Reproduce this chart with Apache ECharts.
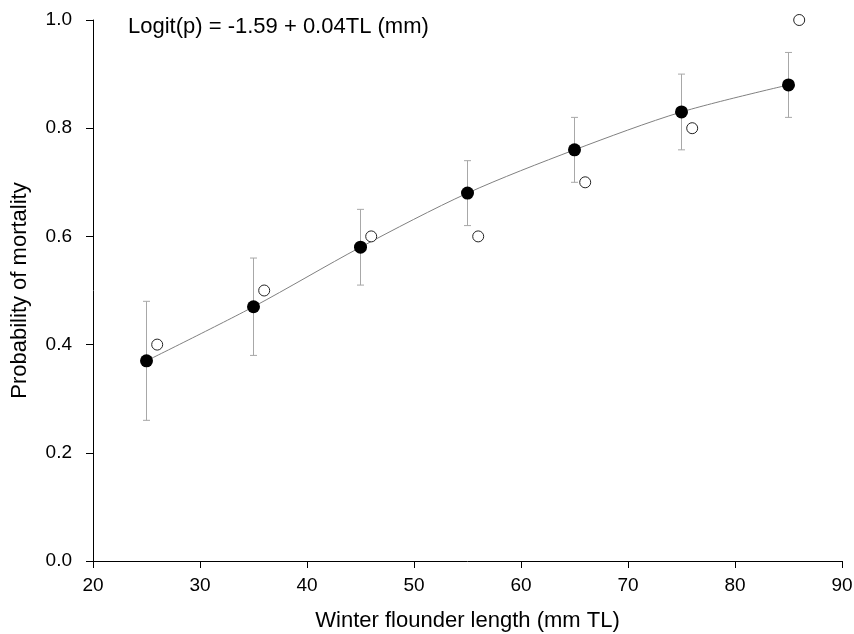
<!DOCTYPE html>
<html>
<head>
<meta charset="utf-8">
<script src="https://cdn.jsdelivr.net/npm/echarts@6/dist/echarts.min.js"></script>
<style>
  html, body { margin: 0; padding: 0; background: #fff; }
  #chart { width: 854px; height: 634px; }
</style>
</head>
<body>
<div id="chart"></div>
<script>
  // fitted (filled) points with error bars
  const lengths = [25, 35, 45, 55, 65, 75, 85]
  const fitted = [0.37, 0.47, 0.58, 0.68, 0.76, 0.83, 0.88]
  const errLow = [0.26, 0.38, 0.51, 0.62, 0.70, 0.76, 0.82]
  const errHigh = [0.48, 0.56, 0.65, 0.74, 0.82, 0.90, 0.94]

  // observed (open) points
  const obsLengths = [26, 36, 46, 56, 66, 76, 86]
  const observed = [0.40, 0.50, 0.60, 0.60, 0.70, 0.80, 1.00]

  const xTicks = [20, 30, 40, 50, 60, 70, 80, 90]
  const yTicks = [0.0, 0.2, 0.4, 0.6, 0.8, 1.0]

  const font = 'Liberation Sans, Arial, sans-serif'
  const chart = echarts.init(document.getElementById('chart'))

  const option = {
    animation: false,
    grid: { left: 93, right: 12, top: 20, bottom: 73, outerBoundsMode: 'none', containLabel: false },
    graphic: [{
      type: 'text',
      left: 128,
      top: 16,
      style: { text: 'Logit(p) = -1.59 + 0.04TL (mm)', font: '22px ' + font, fill: '#000' }
    }],
    xAxis: {
      type: 'value',
      min: xTicks[0],
      max: xTicks[xTicks.length - 1],
      interval: 10,
      name: 'Winter flounder length (mm TL)',
      nameLocation: 'middle',
      nameGap: 49,
      nameTextStyle: { fontSize: 22, fontFamily: font, color: '#000' },
      axisLine: { lineStyle: { color: '#000', width: 1 } },
      axisTick: { show: true, length: 7, lineStyle: { color: '#000' } },
      axisLabel: { fontSize: 19, fontFamily: font, color: '#000', margin: 15 },
      splitLine: { show: false }
    },
    yAxis: {
      type: 'value',
      min: yTicks[0],
      max: yTicks[yTicks.length - 1],
      interval: 0.2,
      name: 'Probability of mortality',
      nameLocation: 'middle',
      nameGap: 62,
      nameTextStyle: { fontSize: 22, fontFamily: font, color: '#000' },
      axisLine: { show: true, lineStyle: { color: '#000', width: 1 } },
      axisTick: { show: true, length: 7, lineStyle: { color: '#000' } },
      axisLabel: {
        fontSize: 19, fontFamily: font, color: '#000', margin: 21,
        formatter: v => v.toFixed(1)
      },
      splitLine: { show: false }
    },
    series: [
      {
        type: 'custom',
        name: 'error',
        data: lengths.map((x, i) => [x, errLow[i], errHigh[i]]),
        renderItem: (params, api) => {
          const lo = api.coord([api.value(0), api.value(1)])
          const hi = api.coord([api.value(0), api.value(2)])
          const w = 3.5
          const style = { stroke: '#a8a8a8', lineWidth: 1 }
          return {
            type: 'group',
            children: [
              { type: 'line', shape: { x1: lo[0], y1: lo[1], x2: hi[0], y2: hi[1] }, style },
              { type: 'line', shape: { x1: lo[0] - w, y1: lo[1], x2: lo[0] + w, y2: lo[1] }, style },
              { type: 'line', shape: { x1: hi[0] - w, y1: hi[1], x2: hi[0] + w, y2: hi[1] }, style }
            ]
          }
        },
        z: 1
      },
      {
        type: 'line',
        name: 'fit',
        data: lengths.map((x, i) => [x, fitted[i]]),
        smooth: 0.3,
        showSymbol: false,
        lineStyle: { color: '#808080', width: 1 },
        z: 2
      },
      {
        type: 'scatter',
        name: 'fitted',
        data: lengths.map((x, i) => [x, fitted[i]]),
        symbol: 'circle',
        symbolSize: 13,
        itemStyle: { color: '#000', opacity: 1 },
        z: 3
      },
      {
        type: 'scatter',
        name: 'observed',
        data: obsLengths.map((x, i) => [x, observed[i]]),
        symbol: 'circle',
        symbolSize: 11,
        itemStyle: { color: '#fff', borderColor: '#222', borderWidth: 1, opacity: 1 },
        z: 3
      }
    ]
  }

  chart.setOption(option)
</script>
</body>
</html>
